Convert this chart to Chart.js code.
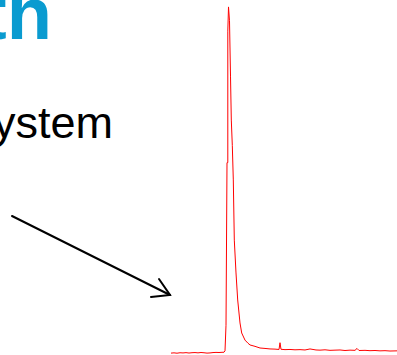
<!DOCTYPE html>
<html>
<head>
<meta charset="utf-8">
<script src="https://cdn.jsdelivr.net/npm/chart.js@4/dist/chart.umd.min.js"></script>
<style>
  html, body { margin: 0; padding: 0; background: #fff; overflow: hidden; }
  body { width: 397px; height: 355px; position: relative; }
  .title {
    position: absolute; left: -18px; top: -23px;
    font-family: "Liberation Sans", Arial, sans-serif; font-weight: bold;
    font-size: 74px; color: #0a9bd0; white-space: nowrap; line-height: 1;
  }
  .caption {
    position: absolute; left: -7px; top: 100px;
    font-family: "Liberation Sans", Arial, sans-serif;
    font-size: 45px; color: #000; white-space: nowrap; line-height: 1;
  }
  #arrow { position: absolute; left: 0; top: 0; }
  #wrap { position: absolute; left: 170px; top: 0; width: 227px; height: 355px; }
</style>
</head>
<body>
<div class="title">th</div>
<div class="caption">ystem</div>
<svg id="arrow" width="397" height="355">
  <g stroke="#000" stroke-width="2" fill="none" stroke-linecap="round">
    <line x1="12" y1="216" x2="170" y2="295"/>
    <polyline points="159,279 170,295 151,297"/>
  </g>
</svg>
<div id="wrap"><canvas id="c"></canvas></div>
<script>
// Retention time (arbitrary units) and detector signal (% of peak height)
const times = [
  1, 4, 7, 10, 13, 16, 19, 22, 25, 28, 31, 34, 37, 40, 43, 46, 49, 52, 54,
  55, 56, 57, 57.8, 58.5, 59.5, 60.5, 61.3, 62.3, 63.3, 64.3, 66, 67.7, 70, 71.7,
  75, 78, 80, 85, 90, 95, 100, 105, 109, 110, 111, 115, 120, 125, 130, 135,
  140, 143, 146, 150, 155, 160, 165, 170, 175, 180, 185, 187, 189, 195, 200,
  205, 210, 215, 220, 227
];
const signal = [
  -0.05, 0.02, -0.08, 0.05, 0.0, 0.08, -0.03, 0.06, 0.1, 0.02, 0.12, 0.05, -0.05, 0.0, 0.1, 0.15, 0.12, 0.18, 0.2,
  0.6, 8, 55, 93, 100, 96, 80, 67.3, 60, 50, 32.6, 23.1, 15.3, 8.65, 5.76,
  3.7, 2.8, 2.3, 1.9, 1.42, 1.3, 1.15, 1.1, 1.0, 2.95, 1.05, 0.95, 1.0, 0.9, 0.95, 0.85,
  1.15, 1.0, 0.85, 0.8, 0.9, 0.75, 0.8, 0.85, 0.7, 0.8, 0.75, 1.3, 0.7, 0.75, 0.65,
  0.7, 0.6, 0.65, 0.55, 0.6
];

const points = times.map((t, i) => ({ x: t, y: signal[i] }));

new Chart(document.getElementById('c'), {
  type: 'line',
  data: {
    datasets: [{
      data: points,
      borderColor: '#ff0000',
      borderWidth: 1,
      pointRadius: 0,
      tension: 0,
      fill: false,
      clip: false
    }]
  },
  options: {
    responsive: true,
    maintainAspectRatio: false,
    animation: false,
    layout: { padding: 0 },
    plugins: { legend: { display: false }, tooltip: { enabled: false } },
    scales: {
      x: { type: 'linear', min: 0, max: 227, display: false },
      y: { min: -0.6, max: 102, display: false }
    }
  }
});
</script>
</body>
</html>
